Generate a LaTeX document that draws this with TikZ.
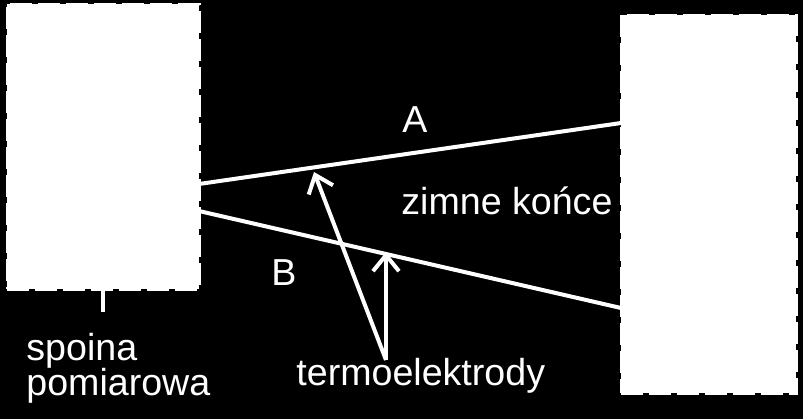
\documentclass[tikz,border=0pt]{standalone}
\usepackage{fontspec}
\setmainfont{Liberation Sans}
\usetikzlibrary{arrows.meta}
\begin{document}
\begin{tikzpicture}[x=0.5pt,y=-0.5pt,
    box/.style={fill=white,draw=white,line width=1.5pt,
      dash pattern=on 11pt off 3pt,inner sep=0pt},
    wire/.style={white,line width=2pt},
    pointer/.style={white,line width=2pt,-{Straight Barb[length=8pt,width=13pt,line width=2pt]}},
    lbl/.style={text=white,font=\fontsize{18.8}{22}\selectfont,inner sep=0pt,anchor=base west}]
      \fill (0,0) rectangle (803,419);
      \useasboundingbox (0,0) rectangle (803,419);

      % junction and cold ends
      \node[box,minimum width=96pt,minimum height=142.5pt] (spoina) at (103,146.5) {};
      \node[box,minimum width=87.5pt,minimum height=189pt] (konce) at (708.5,204) {};

      % wires A and B
      \coordinate (a1) at (199,184);
      \coordinate (a2) at (621,123);
      \coordinate (b1) at (199,211);
      \coordinate (b2) at (621,308);
      \draw[wire] (a1) -- (a2);
      \draw[wire] (b1) -- (b2);

      % labels
      \node[lbl] (A) at (402,132) {A};
      \node[lbl] (B) at (271,285) {B};
      \node[lbl] (zimne) at (401,214) {zimne końce};
      \node[lbl] (spoina1) at (26,360) {spoina};
      \node[lbl] (spoina2) at (26,395) {pomiarowa};
      \node[lbl] (termo) at (296,385) {termoelektrody};

      % tick under the junction
      \coordinate (tick) at (103,312);
      \draw[wire] (spoina.south) -- (tick);

      % arrows to the wires
      \coordinate (base) at (386,360);
      \coordinate (tipA) at (314,172);
      \coordinate (tipB) at (386,252);
      \draw[pointer] (base) -- (tipA);
      \draw[pointer] (base) -- (tipB);
\end{tikzpicture}
\end{document}
